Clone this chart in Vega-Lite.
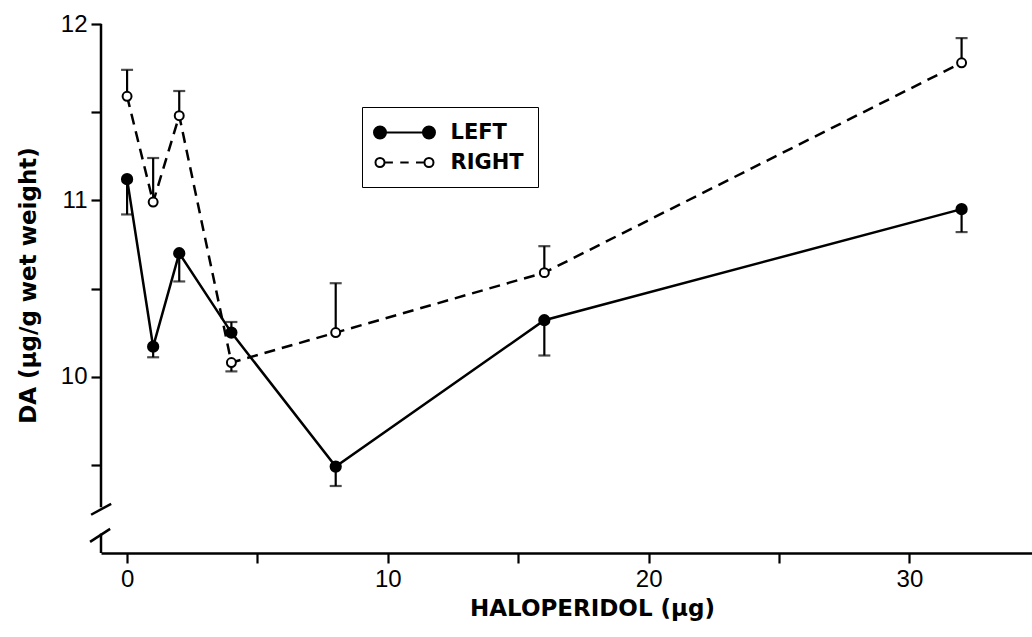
{
  "$schema": "https://vega.github.io/schema/vega-lite/v6.json",
  "width": 931,
  "height": 529,
  "autosize": {"type": "none"},
  "padding": {"left": 101, "top": 24, "right": 0, "bottom": 84},
  "background": "white",
  "config": {
    "view": {"stroke": null},
    "axis": {
      "domainColor": "black",
      "domainWidth": 2.5,
      "tickColor": "black",
      "tickWidth": 2.2,
      "tickSize": 10,
      "grid": false,
      "labelFont": "Liberation Sans",
      "labelFontSize": 24,
      "labelColor": "black",
      "titleColor": "black",
      "titleFont": "DejaVu Sans",
      "titleFontWeight": "bold"
    }
  },
  "datasets": {
    "da": [
      {"series": "LEFT", "dose": 0, "da": 11.12, "err": 10.92},
      {"series": "LEFT", "dose": 1, "da": 10.17, "err": 10.11},
      {"series": "LEFT", "dose": 2, "da": 10.70, "err": 10.54},
      {"series": "LEFT", "dose": 4, "da": 10.25, "err": 10.31},
      {"series": "LEFT", "dose": 8, "da": 9.49, "err": 9.38},
      {"series": "LEFT", "dose": 16, "da": 10.32, "err": 10.12},
      {"series": "LEFT", "dose": 32, "da": 10.95, "err": 10.82},
      {"series": "RIGHT", "dose": 0, "da": 11.59, "err": 11.74},
      {"series": "RIGHT", "dose": 1, "da": 10.99, "err": 11.24},
      {"series": "RIGHT", "dose": 2, "da": 11.48, "err": 11.62},
      {"series": "RIGHT", "dose": 4, "da": 10.08, "err": 10.03},
      {"series": "RIGHT", "dose": 8, "da": 10.25, "err": 10.53},
      {"series": "RIGHT", "dose": 16, "da": 10.59, "err": 10.74},
      {"series": "RIGHT", "dose": 32, "da": 11.78, "err": 11.92}
    ],
    "axisline": [
      {"x": -1, "y": 12, "x2": -1, "y2": 9.26},
      {"x": -1, "y": 9.11, "x2": -1, "y2": 9},
      {"x": -1.38, "y": 9.217, "x2": -0.61, "y2": 9.279},
      {"x": -1.42, "y": 9.063, "x2": -0.65, "y2": 9.137}
    ]
  },
  "layer": [
    {
      "data": {"name": "axisline"},
      "mark": {"type": "rule", "color": "black", "strokeWidth": 2.5},
      "encoding": {
        "x": {"field": "x", "type": "quantitative", "scale": {"domain": [-1, 34.7], "nice": false, "zero": false},
          "axis": {
            "values": [0, 5, 10, 15, 20, 25, 30],
            "labelExpr": "datum.value % 10 === 0 ? datum.label : ''",
            "labelPadding": 4,
            "title": "HALOPERIDOL (µg)",
            "titleFontSize": 23,
            "titleX": 491,
            "titleY": 62,
            "titleAlign": "center",
            "titleBaseline": "alphabetic"
          }},
        "y": {"field": "y", "type": "quantitative", "scale": {"domain": [9, 12], "nice": false, "zero": false},
          "axis": {
            "domain": false,
            "values": [9.5, 10, 10.5, 11, 11.5, 12],
            "labelExpr": "datum.value % 1 === 0 ? format(datum.value, 'd') : ''",
            "labelPadding": 4,
            "title": "DA (µg/g wet weight)",
            "titleFontSize": 23,
            "titleAngle": -90,
            "titleX": -73,
            "titleY": 261,
            "titleAlign": "center",
            "titleBaseline": "middle"
          }},
        "x2": {"field": "x2"},
        "y2": {"field": "y2"}
      }
    },
    {
      "data": {"name": "da"},
      "transform": [{"filter": "datum.series === 'LEFT'"}],
      "mark": {"type": "line", "color": "black", "strokeWidth": 2.5},
      "encoding": {
        "x": {"field": "dose", "type": "quantitative"},
        "y": {"field": "da", "type": "quantitative"}
      }
    },
    {
      "data": {"name": "da"},
      "transform": [{"filter": "datum.series === 'RIGHT'"}],
      "mark": {"type": "line", "color": "black", "strokeWidth": 2.5, "strokeDash": [11, 7]},
      "encoding": {
        "x": {"field": "dose", "type": "quantitative"},
        "y": {"field": "da", "type": "quantitative"}
      }
    },
    {
      "data": {"name": "da"},
      "mark": {"type": "rule", "color": "black", "strokeWidth": 2.2},
      "encoding": {
        "x": {"field": "dose", "type": "quantitative"},
        "y": {"field": "da", "type": "quantitative"},
        "y2": {"field": "err"}
      }
    },
    {
      "data": {"name": "da"},
      "mark": {"type": "tick", "orient": "horizontal", "color": "black", "size": 12, "thickness": 2.2},
      "encoding": {
        "x": {"field": "dose", "type": "quantitative"},
        "y": {"field": "err", "type": "quantitative"}
      }
    },
    {
      "data": {"name": "da"},
      "mark": {"type": "point", "filled": true, "stroke": "black", "strokeWidth": 2, "opacity": 1},
      "encoding": {
        "x": {"field": "dose", "type": "quantitative"},
        "y": {"field": "da", "type": "quantitative"},
        "size": {"condition": {"test": "datum.series === 'RIGHT'", "value": 80}, "value": 105},
        "fill": {"field": "series", "type": "nominal",
          "scale": {"domain": ["LEFT", "RIGHT"], "range": ["black", "white"]},
          "legend": {
            "title": null,
            "orient": "none",
            "legendX": 261,
            "legendY": 83,
            "padding": 14,
            "rowPadding": 8,
            "symbolSize": 441,
            "symbolType": {"expr": "datum.value === 'LEFT' ? 'M-0.714,0L3.95,0M-1.285,0A0.571,0.571,0,1,0,-0.143,0A0.571,0.571,0,1,0,-1.285,0ZM3.379,0A0.571,0.571,0,1,0,4.521,0A0.571,0.571,0,1,0,3.379,0Z' : 'M-0.284,0L0.516,0M1.216,0L2.016,0M2.716,0L3.516,0M-1.144,0A0.43,0.43,0,1,0,-0.284,0A0.43,0.43,0,1,0,-1.144,0ZM3.52,0A0.43,0.43,0,1,0,4.38,0A0.43,0.43,0,1,0,3.52,0Z'"},
            "symbolStrokeColor": "black",
            "symbolStrokeWidth": 2,
            "labelOffset": 51.5,
            "labelFont": "DejaVu Sans",
            "labelFontWeight": "bold",
            "labelFontSize": 21,
            "labelColor": "black",
            "strokeColor": "black",
            "fillColor": "white",
            "encode": {
              "legend": {"update": {"strokeWidth": {"value": 2}}}
            }
          }}
      }
    }
  ]
}
